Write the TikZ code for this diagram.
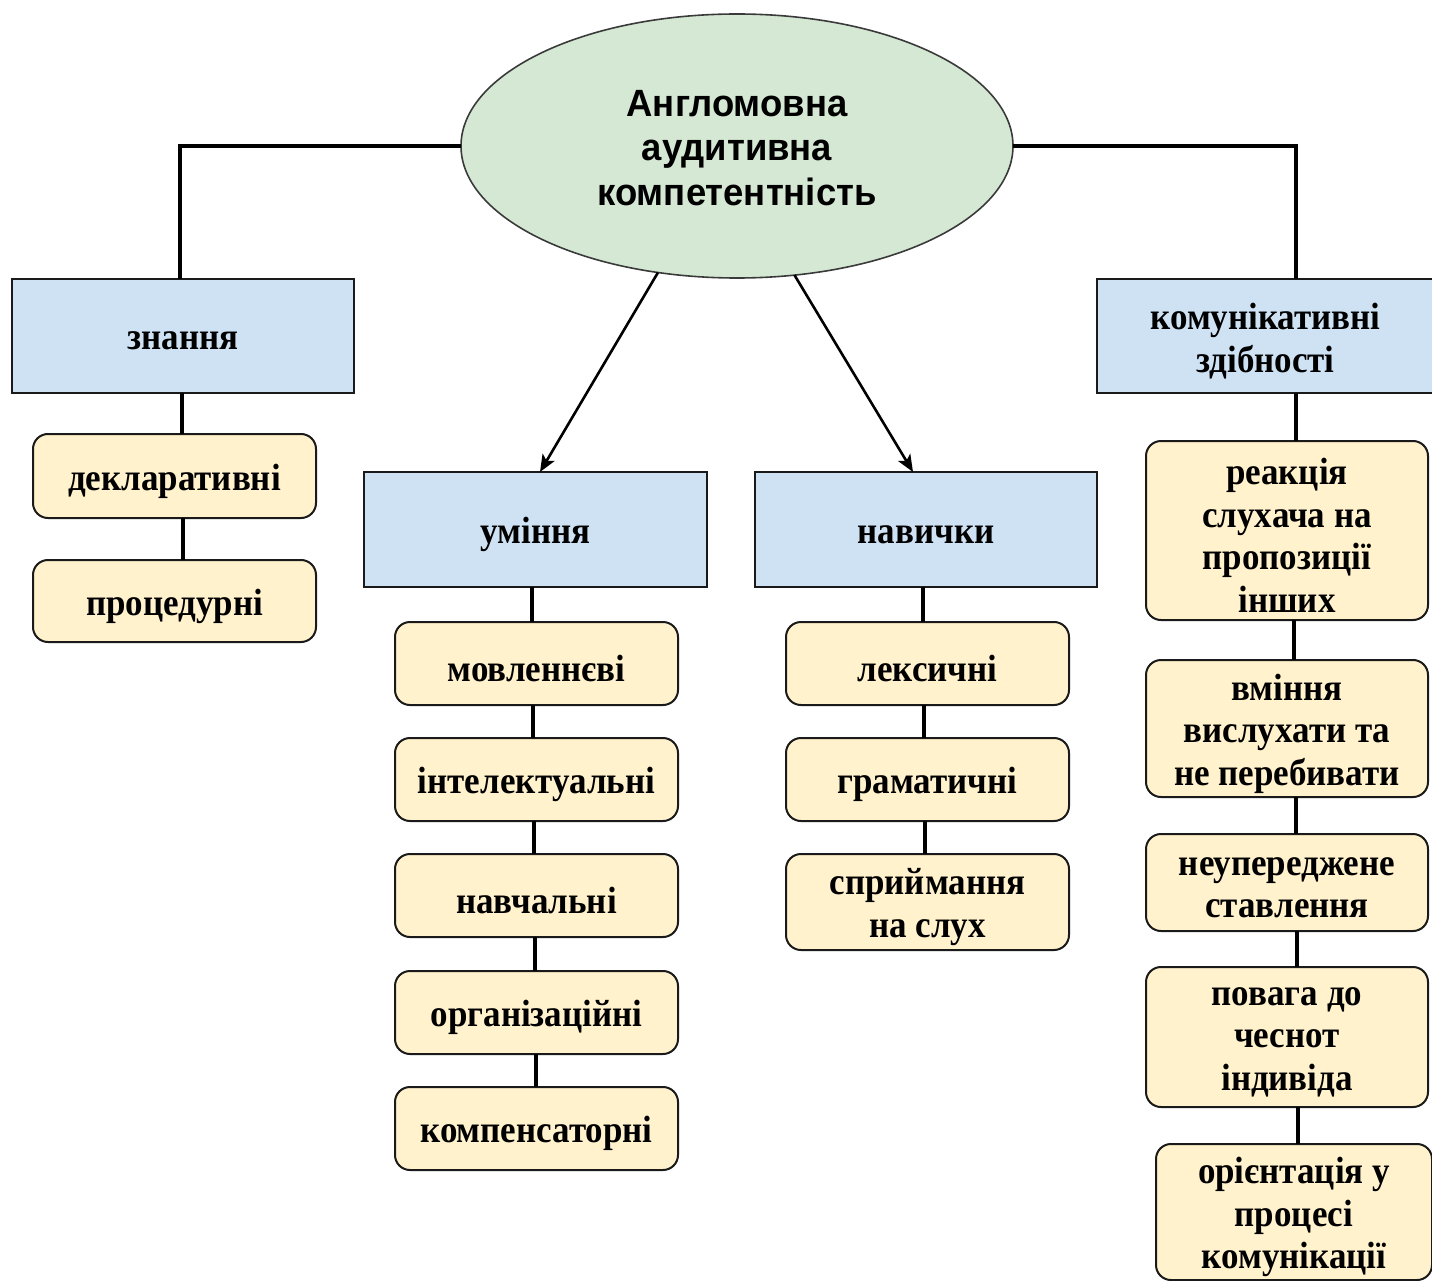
\documentclass[tikz,border=0pt]{standalone}
\usepackage{fontspec}
\setmainfont[FakeStretch=0.92]{Liberation Serif}
\newfontfamily\sansfam[FakeStretch=0.96]{Liberation Sans}
\usetikzlibrary{arrows.meta,shapes.geometric,calc}
\definecolor{ellfill}{HTML}{D5E8D4}
\definecolor{ellline}{HTML}{3A3A3A}
\definecolor{bluefill}{HTML}{CFE2F3}
\definecolor{yelfill}{HTML}{FFF2CC}
\definecolor{boxline}{HTML}{1A1A1A}
\tikzset{
  boxtext/.style={font=\bfseries\fontsize{38}{42.5}\selectfont, align=center, inner sep=0pt, outer sep=0pt},
  txt/.style={label={[boxtext, yshift=-5pt]center:#1}},
  bbox/.style={draw=boxline, line width=2pt, fill=bluefill, rectangle, inner sep=0pt, outer sep=0pt},
  ybox/.style={draw=boxline, line width=2pt, fill=yelfill, rectangle, rounded corners=15pt, inner sep=0pt, outer sep=0pt},
  tree/.style={draw=black, line width=4pt},
  arr/.style={draw=black, line width=2.6pt, -{Stealth[length=17pt,width=14pt,inset=4pt]}},
}
\begin{document}
\begin{tikzpicture}[x=1pt,y=-1pt]
\useasboundingbox (0,0) rectangle (1432,1281);
% central ellipse
\node[ellipse, draw=ellline, line width=1.6pt, fill=ellfill, minimum width=552pt, minimum height=264pt, inner sep=0pt, outer sep=0pt,
  label={[font=\sansfam\bfseries\fontsize{38}{44.5}\selectfont, align=center, inner sep=0pt, yshift=-2pt]center:{Англомовна\\аудитивна\\компетентність}}] (ell) at (737,146) {};
% category boxes
\node[bbox, minimum width=342pt, minimum height=114pt, txt={знання}] (zn) at (183,336) {};
\node[bbox, minimum width=343pt, minimum height=115pt, txt={уміння}] (um) at (535.5,529.5) {};
\node[bbox, minimum width=342pt, minimum height=115pt, txt={навички}] (nav) at (926,529.5) {};
\node[bbox, minimum width=337pt, minimum height=114pt, txt={комунікативні\\здібності}] (kom) at (1265.5,336) {};
% left column
\node[ybox, minimum width=283pt, minimum height=84pt, txt={декларативні}] (dek) at (174.5,476) {};
\node[ybox, minimum width=283pt, minimum height=82pt, txt={процедурні}] (proc) at (174.5,601) {};
% skills column
\node[ybox, minimum width=283pt, minimum height=83pt, txt={мовленнєві}] (movl) at (536.5,663.5) {};
\node[ybox, minimum width=283pt, minimum height=83pt, txt={інтелектуальні}] (int) at (536.5,779.5) {};
\node[ybox, minimum width=283pt, minimum height=83pt, txt={навчальні}] (nch) at (536.5,895.5) {};
\node[ybox, minimum width=283pt, minimum height=83pt, txt={організаційні}] (org) at (536.5,1012.5) {};
\node[ybox, minimum width=283pt, minimum height=83pt, txt={компенсаторні}] (komp) at (536.5,1128.5) {};
% habits column
\node[ybox, minimum width=283pt, minimum height=83pt, txt={лексичні}] (lek) at (927.5,663.5) {};
\node[ybox, minimum width=283pt, minimum height=83pt, txt={граматичні}] (gram) at (927.5,779.5) {};
\node[ybox, minimum width=283pt, minimum height=96pt, txt={сприймання\\на слух}] (spr) at (927.5,902) {};
% communicative column
\node[ybox, minimum width=282pt, minimum height=179pt, txt={реакція\\слухача на\\пропозиції\\інших}] (reak) at (1287,530.5) {};
\node[ybox, minimum width=282pt, minimum height=137pt, txt={вміння\\вислухати та\\не перебивати}] (vmin) at (1287,728.5) {};
\node[ybox, minimum width=282pt, minimum height=97pt, txt={неупереджене\\ставлення}] (neup) at (1287,882.5) {};
\node[ybox, minimum width=282pt, minimum height=140pt, txt={повага до\\чеснот\\індивіда}] (pov) at (1287,1037) {};
\node[ybox, minimum width=276pt, minimum height=136pt, txt={орієнтація у\\процесі\\комунікації}] (orie) at (1294,1212) {};
% connectors from ellipse
\coordinate (rc) at (1296,0);
\draw[tree] (ell.west) -| ([xshift=-3pt]zn.north);
\draw[tree] (ell.east) -| (kom.north -| rc);
\draw[arr] (ell.238.5) -- ([xshift=4.5pt]um.north);
\draw[arr] (ell.294.2) -- ([xshift=-13pt]nav.north);
% left chain
\draw[tree] (zn.south -| 182,0) -- (dek.north -| 182,0);
\draw[tree] (dek.south -| 183,0) -- (proc.north -| 183,0);
% skills chain
\draw[tree] (um.south -| 532,0) -- (movl.north -| 532,0);
\draw[tree] (movl.south -| 533,0) -- (int.north -| 533,0);
\draw[tree] (int.south -| 534,0) -- (nch.north -| 534,0);
\draw[tree] (nch.south -| 535,0) -- (org.north -| 535,0);
\draw[tree] (org.south -| 536,0) -- (komp.north -| 536,0);
% habits chain
\draw[tree] (nav.south -| 923,0) -- (lek.north -| 923,0);
\draw[tree] (lek.south -| 924,0) -- (gram.north -| 924,0);
\draw[tree] (gram.south -| 925,0) -- (spr.north -| 925,0);
% communicative chain
\draw[tree] (kom.south -| rc) -- (reak.north -| rc);
\draw[tree] (reak.south -| 1294,0) -- (vmin.north -| 1294,0);
\draw[tree] (vmin.south -| 1296,0) -- (neup.north -| 1296,0);
\draw[tree] (neup.south -| 1297,0) -- (pov.north -| 1297,0);
\draw[tree] (pov.south -| 1298,0) -- (orie.north -| 1298,0);
\end{tikzpicture}
\end{document}
